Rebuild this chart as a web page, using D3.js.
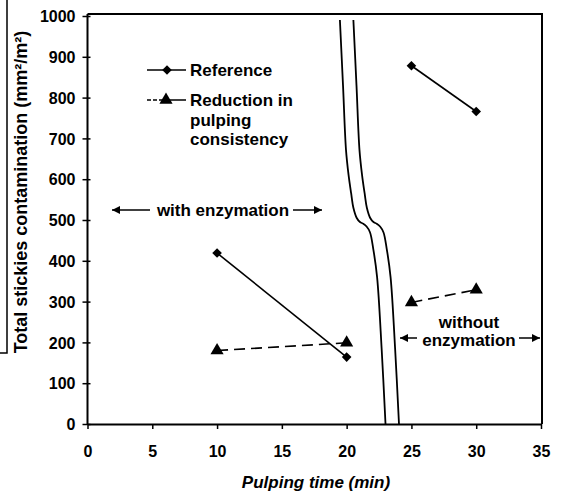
<!DOCTYPE html>
<html><head><meta charset="utf-8">
<script src="https://cdn.jsdelivr.net/npm/d3@7"></script>
<style>
html,body{margin:0;padding:0;background:#fff;}
svg{display:block;}
text{font-family:"Liberation Sans",Arial,sans-serif;font-weight:bold;fill:#000;}
</style></head>
<body>
<svg id="chart" width="561" height="496"></svg>
<script>
// ---- data ----
const xTicks = [0,5,10,15,20,25,30,35];
const yTicks = [0,100,200,300,400,500,600,700,800,900,1000];
const seriesNames = ["Reference","Reduction in pulping consistency"];
const refSeg1 = [[10,419],[20,164]];
const refSeg2 = [[25,878],[30,766]];
const redSeg1 = [[10,180],[20,199]];
const redSeg2 = [[25,298],[30,329]];
// scale-break curve (data units), second curve offset by breakGap
const breakCurve = [[19.48,990],[19.72,830],[19.95,672],[20.15,610],[20.35,565],[20.52,530],[20.78,505],[21.03,495],[21.28,491],[21.54,484],[21.8,470],[22.05,430],[22.35,360],[22.7,185],[23.0,0]];
const breakGap = 1.04;
const xTitle = "Pulping time (min)";
const yTitle = "Total stickies contamination (mm²/m²)";

const svg = d3.select("#chart");
const x = d3.scaleLinear().domain([0,35]).range([87.5,541]);
const y = d3.scaleLinear().domain([0,1000]).range([424,16]);

// arrow marker
const defs = svg.append("defs");
defs.append("marker").attr("id","ah").attr("viewBox","0 0 10 10").attr("refX",10).attr("refY",5)
  .attr("markerWidth",10).attr("markerHeight",8).attr("markerUnits","userSpaceOnUse").attr("orient","auto-start-reverse")
  .append("path").attr("d","M0,0L10,5L0,10Z").attr("fill","#000");

// scan artifact at left edge
svg.append("path").attr("d","M7,0V353H0").attr("fill","none").attr("stroke","#000").attr("stroke-width",1.5);

// frame (top & right)
svg.append("path").attr("d",`M${x(0)},14H${x(35)+1}V${y(0)}`).attr("fill","none").attr("stroke","#000").attr("stroke-width",2);

// y axis
const yAxis = svg.append("g").attr("transform",`translate(${x(0)},0)`)
  .call(d3.axisLeft(y).tickValues(yTicks).tickFormat(d3.format("d")).tickSizeInner(5).tickSizeOuter(0).tickPadding(7));
yAxis.select(".domain").attr("stroke-width",2).attr("d",`M0,14V${y(0)}`);
yAxis.selectAll(".tick line").attr("x2",-5).attr("x1",3).attr("stroke-width",1.5);
yAxis.selectAll(".tick text").attr("font-size",16).attr("font-family","Liberation Sans, Arial, sans-serif").attr("font-weight","bold").attr("dy","0.35em");

// x axis
const xAxis = svg.append("g").attr("transform",`translate(0,${y(0)})`)
  .call(d3.axisBottom(x).tickValues(xTicks).tickFormat(d3.format("d")).tickSizeInner(5).tickSizeOuter(0).tickPadding(17));
xAxis.select(".domain").attr("stroke-width",2);
xAxis.selectAll(".tick line").attr("stroke-width",1.5);
xAxis.selectAll(".tick text").attr("font-size",16).attr("font-family","Liberation Sans, Arial, sans-serif").attr("font-weight","bold");

// axis titles
svg.append("text").attr("x",316).attr("y",488).attr("text-anchor","middle").attr("font-size",17)
  .attr("font-style","italic").text(xTitle);
svg.append("text").attr("transform","translate(27,192) rotate(-90)").attr("text-anchor","middle").attr("font-size",18)
  .text(yTitle);

// break curves
const bl = d3.line().x(d=>x(d[0])).y(d=>y(d[1])).curve(d3.curveCatmullRom);
const breakPts2 = breakCurve.map(d=>[d[0]+breakGap,d[1]]);
svg.append("path").attr("d",bl(breakCurve)).attr("fill","none").attr("stroke","#000").attr("stroke-width",1.8);
svg.append("path").attr("d",bl(breakPts2)).attr("fill","none").attr("stroke","#000").attr("stroke-width",1.8);

// series lines
const ln = d3.line().x(d=>x(d[0])).y(d=>y(d[1]));
[refSeg1,refSeg2].forEach(s=>svg.append("path").attr("d",ln(s)).attr("fill","none").attr("stroke","#000").attr("stroke-width",1.6));
[redSeg1,redSeg2].forEach(s=>svg.append("path").attr("d",ln(s)).attr("fill","none").attr("stroke","#000").attr("stroke-width",1.6).attr("stroke-dasharray","11,6"));

const tri = d3.symbol().type(d3.symbolTriangle).size(75);
function drawDiamond(cx,cy){svg.append("path").attr("d",d3.symbol().type(d3.symbolSquare).size(46)()).attr("transform",`translate(${cx},${cy}) rotate(45)`).attr("fill","#000");}
function drawTri(cx,cy){svg.append("path").attr("d",tri()).attr("transform",`translate(${cx},${cy})`).attr("fill","#000");}
refSeg1.concat(refSeg2).forEach(d=>drawDiamond(x(d[0]),y(d[1])));
redSeg1.concat(redSeg2).forEach(d=>drawTri(x(d[0]),y(d[1])));

// legend
const lg = svg.append("g");
lg.append("line").attr("x1",147).attr("x2",186).attr("y1",70).attr("y2",70).attr("stroke","#000").attr("stroke-width",1.5);
drawDiamond(167,70);
lg.append("line").attr("x1",147).attr("x2",186).attr("y1",100).attr("y2",100).attr("stroke","#000").attr("stroke-width",1.5).attr("stroke-dasharray","4,2,4,2,30");
drawTri(166,100);
lg.append("text").attr("x",190).attr("y",76).attr("font-size",17).text(seriesNames[0]);
const t2 = lg.append("text").attr("x",190).attr("y",106).attr("font-size",17);
["Reduction in","pulping","consistency"].forEach((s,i)=>t2.append("tspan").attr("x",190).attr("dy",i?19.5:0).text(s));

// annotations
svg.append("line").attr("x1",150).attr("x2",112).attr("y1",210).attr("y2",210).attr("stroke","#000").attr("stroke-width",1.5).attr("marker-end","url(#ah)");
svg.append("line").attr("x1",293).attr("x2",322).attr("y1",210).attr("y2",210).attr("stroke","#000").attr("stroke-width",1.5).attr("marker-end","url(#ah)");
svg.append("text").attr("x",223).attr("y",216).attr("text-anchor","middle").attr("font-size",17).text("with enzymation");

svg.append("line").attr("x1",417).attr("x2",400).attr("y1",338).attr("y2",338).attr("stroke","#000").attr("stroke-width",1.5).attr("marker-end","url(#ah)");
svg.append("line").attr("x1",519).attr("x2",540).attr("y1",338).attr("y2",338).attr("stroke","#000").attr("stroke-width",1.5).attr("marker-end","url(#ah)");
svg.append("text").attr("x",469).attr("y",328).attr("text-anchor","middle").attr("font-size",17).text("without");
svg.append("text").attr("x",469).attr("y",346).attr("text-anchor","middle").attr("font-size",17).text("enzymation");
</script>
</body></html>
